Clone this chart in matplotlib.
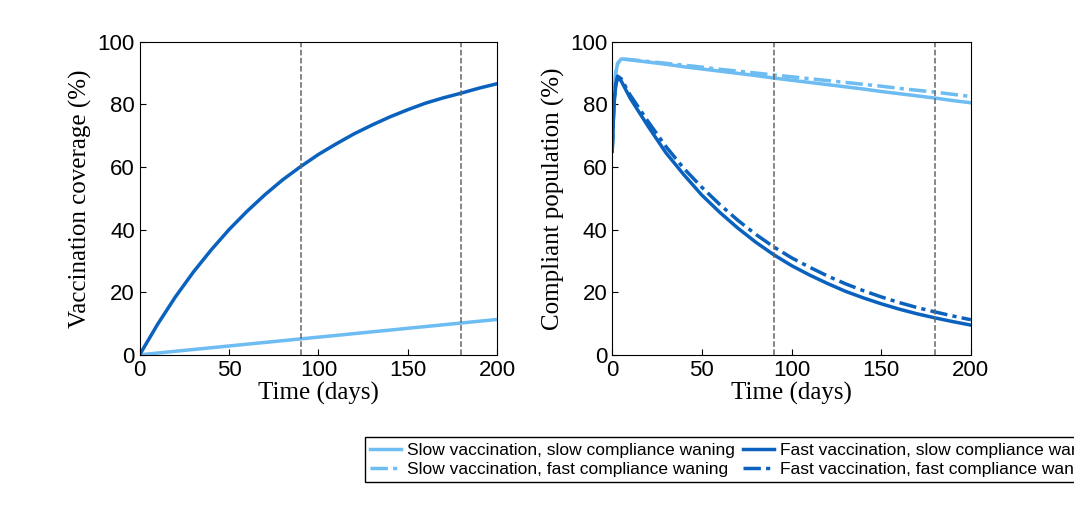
import numpy as np
import matplotlib
matplotlib.use('Agg')
import matplotlib.pyplot as plt

plt.rcParams['font.family'] = 'Liberation Sans'

# left panel: vaccination coverage
t_cov = [0, 10, 20, 30, 40, 50, 60, 70, 80, 90, 100, 110, 120, 130, 140, 150, 160, 170, 180, 190, 200]
cov_fast = [0, 9.7, 18.5, 26.4, 33.5, 40, 45.8, 51.1, 55.9, 60.1, 64, 67.4, 70.6, 73.4, 76, 78.3,
            80.4, 82.1, 83.6, 85.2, 86.6]
cov_slow = [0, 0.57, 1.14, 1.7, 2.26, 2.83, 3.4, 3.96, 4.52, 5.09, 5.65, 6.2, 6.78, 7.35, 7.9,
            8.48, 9.04, 9.6, 10.17, 10.74, 11.3]

# right panel: compliant population
t_cp = [0, 1, 2, 3, 5, 10, 20, 30, 40, 50, 60, 70, 80, 90, 100, 110, 120, 130, 140, 150,
        160, 170, 180, 190, 200]
cp_ss = [65, 82, 90, 93, 94.5, 94.2, 93.5, 92.8, 92.0, 91.3, 90.6, 89.9, 89.2, 88.4, 87.7,
         87.0, 86.3, 85.6, 84.9, 84.1, 83.4, 82.7, 82.0, 81.2, 80.5]
cp_sf = [65, 82, 90, 93, 94.5, 94.3, 93.7, 93.1, 92.5, 91.9, 91.2, 90.6, 90.0, 89.4, 88.8,
         88.2, 87.6, 87.0, 86.4, 85.8, 85.1, 84.5, 83.9, 83.2, 82.5]
cp_fs = [65, 80, 86, 88.5, 87.5, 82, 73, 64.5, 57.5, 51, 45.5, 40.5, 36, 32, 28.5, 25.5, 22.8,
         20.3, 18.2, 16.3, 14.6, 13.1, 11.8, 10.6, 9.5]
cp_ff = [65, 80.5, 86.5, 89, 88.2, 83, 74.5, 66.5, 59.5, 53.5, 48, 43, 38.5, 34.5, 31, 28,
         25.2, 22.7, 20.5, 18.5, 16.7, 15.1, 13.7, 12.4, 11.2]

light = '#6dbcf2'
dark = '#0a62be'
serif = 'Liberation Serif'
dd = (5, 1.5, 1.2, 1.5)

fig = plt.figure(figsize=(10.74, 5.15), dpi=100)
ax1 = fig.add_axes([0.130, 0.311, 0.333, 0.608])
ax2 = fig.add_axes([0.570, 0.311, 0.334, 0.608])

l1, = ax1.plot(t_cov, cov_slow, '-', color=light, lw=2.5)
l3, = ax1.plot(t_cov, cov_fast, '-', color=dark, lw=2.5)
ax1.set_ylabel('Vaccination coverage (%)', family=serif, fontsize=18)

ax2.plot(t_cp, cp_ss, '-', color=light, lw=2.5)
l2, = ax2.plot(t_cp, cp_sf, '-.', color=light, lw=2.5, dashes=dd)
ax2.plot(t_cp, cp_fs, '-', color=dark, lw=2.5)
l4, = ax2.plot(t_cp, cp_ff, '-.', color=dark, lw=2.5, dashes=dd)
ax2.set_ylabel('Compliant population (%)', family=serif, fontsize=18)

for ax in (ax1, ax2):
    for x in (90, 180):
        ax.axvline(x, color='#666666', ls='--', lw=1.1)
    ax.set_xlim(0, 200)
    ax.set_ylim(0, 100)
    ax.set_xticks([0, 50, 100, 150, 200])
    ax.set_yticks([0, 20, 40, 60, 80, 100])
    ax.tick_params(labelsize=16, direction='in', length=4)
    ax.set_xlabel('Time (days)', family=serif, fontsize=18, labelpad=1)

fig.legend([l1, l2, l3, l4],
           ['Slow vaccination, slow compliance waning', 'Slow vaccination, fast compliance waning',
            'Fast vaccination, slow compliance waning', 'Fast vaccination, fast compliance waning'],
           ncol=2, loc='center', bbox_to_anchor=(0.686, 0.107), bbox_transform=fig.transFigure,
           fontsize=12.5, frameon=True, fancybox=False, edgecolor='black', framealpha=1,
           handlelength=1.8, handletextpad=0.3, columnspacing=0.5, borderpad=0.3, labelspacing=0.25)

fig.savefig('out.png', dpi=100)
